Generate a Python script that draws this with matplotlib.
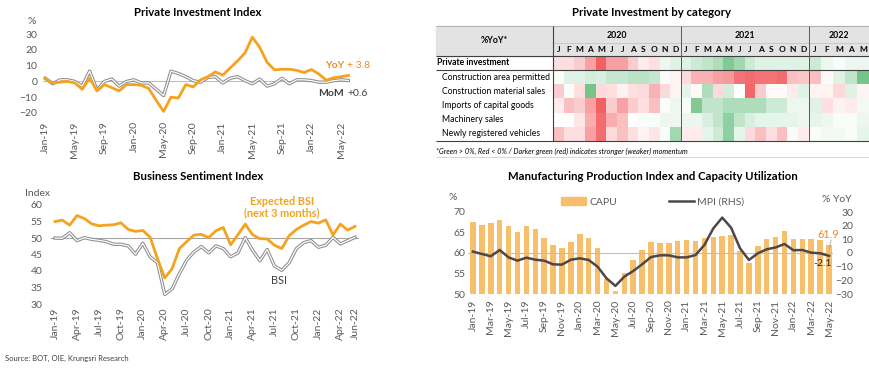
import matplotlib.pyplot as plt
import numpy as np
from matplotlib.colors import LinearSegmentedColormap
from matplotlib.patches import Patch, Rectangle
from matplotlib.lines import Line2D

plt.rcParams['font.family'] = ['Lato', 'DejaVu Sans']

W, H = 870, 368
ORANGE = '#F5A21E'
BAR = '#F7BF6B'
GREY_TXT = '#595959'
DARK = '#4F4747'

# ---------------- data ----------------
mon = ['Jan', 'Feb', 'Mar', 'Apr', 'May', 'Jun', 'Jul', 'Aug', 'Sep', 'Oct', 'Nov', 'Dec']
month_labels = [f'{m}-{y}' for y in ('19', '20', '21', '22') for m in mon]

# Private Investment Index, %YoY and %MoM (Jan-19 .. Jun-22)
pii_yoy = [2, -1, -0.5, 0, -1, -5, 2, -6, -2, -4, -6, -2,
           -2, -2.5, -4.5, -12, -19, -10, -10.5, -2, -3.5, 1, 3, 6,
           4, 8.5, 13, 18, 28, 21.5, 12, 7.3, 7.7, 7.7, 7, 5.6,
           7.5, 4.6, 0.8, 2.3, 3.0, 3.8]
pii_mom = [2, -1.5, 1, 1, 0, -3, 6.5, -5.5, 0, 1.5, -3, 0,
           1, -1, -1, -5, -9, 6.5, 5, 3, 0.5, -0.5, 2.5, 3,
           -1, 2, 3, 0.5, -1.5, 1.5, -3, -1.5, 2, -1.5, 1, 1,
           0.5, -0.5, -0.5, 0.5, 1, 0.6]

# Business Sentiment Index (Jan-19 .. Jun-22)
bsi_expected = [55, 55.4, 53.9, 56.8, 55.9, 54.3, 53.7, 53.9, 54, 54.6, 52.6, 52,
                52.3, 50.2, 43.8, 37.9, 40.7, 46.8, 48.9, 50.9, 51.1, 50.1, 52.2, 53.2,
                47.9, 51, 54.2, 51, 49.8, 49.7, 47.8, 46.8, 50.7, 52.6, 53.9, 55,
                54.5, 55.5, 50.9, 54.2, 52.4, 53.5]
bsi = [50, 49.9, 51.6, 49.2, 50.1, 49.6, 49.3, 48.9, 48.1, 48.1, 47.6, 45.1,
       48.4, 44.3, 42.5, 32.9, 34.6, 39.2, 43.3, 45.8, 47.4, 45.5, 47.6, 46.8,
       44.3, 45.5, 50.1, 46.3, 43.1, 46.5, 41.5, 40.2, 42.5, 46.8, 48.6, 49.2,
       47.2, 47.8, 50.2, 48.2, 49.2, 50.2]

# Capacity utilisation (%) and MPI (%YoY), Jan-19 .. May-22
capu = [67.6, 66.9, 67.3, 68, 66.7, 65, 66.6, 65.8, 63.7, 61.9, 61.2, 62.7,
        64.6, 63.6, 61.1, 53.6, 50.8, 55.2, 58.3, 60.7, 62.8, 62.5, 62.4, 62.9,
        63.2, 62.9, 63.7, 63.8, 64.2, 64.5, 60.6, 57.5, 61.7, 63.3, 63.8, 65.4,
        63.4, 63.4, 63.4, 63.2, 61.9]
mpi = [1, -0.7, -2.4, 2.2, -3.2, -5.6, -3.4, -4.9, -5.6, -8.3, -8.5, -4.9,
       -3.9, -5.1, -10, -18.5, -24.1, -17.3, -13.2, -8.3, -3, -1.7, -1.7, -3.2,
       -3.2, -1.5, 5.9, 18, 25.9, 18.5, 3.4, -5.1, -0.2, 2.7, 4.1, 6.6,
       2, 2.2, 0.2, -0.2, -2.1]

# Heatmap: momentum score (negative = red, positive = green), Jan-20 .. May-22
heat_rows = ['Private investment', 'Construction area permitted', 'Construction material sales',
             'Imports of capital goods', 'Machinery sales', 'Newly registered vehicles']
private_investment = [-0.5, -0.5, -0.8, -1.5, -2.5, -1.5, -1.5, -0.8, -0.3, -0.5, 0.3, 0.5,
                      0.5, 0.8, 1.0, 1.3, 2.0, 1.5, 0.8, 0.5, 0.5, 0.5, 0.5, 0.5,
                      0.8, 0.3, 0.1, 0.3, 0.3]
construction_permitted = [0.1, 0.5, 0.5, 0.7, 0.6, 0.9, 0.9, 1.1, 1.1, 0.9, 0.1, -0.2,
                          -0.6, -1.2, -1.2, -1.5, -1.6, -2.2, -2.3, -2.2, -2.2, -2.3, -1.0, -0.9,
                          -1.0, -0.1, 0.5, 1.0, 2.2]
construction_material = [-0.8, 0.1, -0.5, 2.2, -0.6, -0.5, -0.2, -0.5, -0.6, -1.2, -0.6, -0.2,
                         0.4, -0.1, 1.3, -0.6, 0.7, 0.0, -2.4, -0.8, -0.1, -0.1, -0.3, 0.5,
                         -0.2, -0.2, -0.6, 0.5, -0.2]
capital_imports = [-0.3, -1.0, -0.8, -1.5, -2.5, -0.8, -1.5, -0.8, -0.5, -1.0, 0.1, 0.3,
                   0.1, 2.0, 1.0, 1.0, 1.3, 1.3, 1.3, 1.3, 0.8, 0.8, 0.3, 0.3,
                   0.5, -0.5, -0.2, -0.3, 0.2]
machinery_sales = [0.0, 0.0, -0.4, -1.3, -2.3, -1.3, -1.0, 0.0, 0.1, 0.1, 0.3, 0.3,
                   0.3, 0.3, 0.6, 1.0, 1.8, 1.0, 0.6, 0.4, 0.4, 0.4, 0.4, 0.3,
                   0.4, 0.3, 0.1, 0.1, 0.3]
new_vehicles = [-1.0, -0.5, -0.5, -1.5, -2.3, -0.6, -1.0, -0.5, -0.2, -0.4, 0.1, 1.5,
                -0.3, -0.3, 0.4, 0.8, 1.8, 0.4, -0.6, -1.0, -0.5, -1.0, 0.1, -0.3,
                0.1, 0.2, 0.2, 0.1, 0.4]
heat_years = ['2020', '2021', '2022']
heat_months = list('JFMAMJJASOND') * 2 + list('JFMAM')

fig = plt.figure(figsize=(W / 100, H / 100), dpi=100)


def axes_px(x0, y0, x1, y1):
    return fig.add_axes([x0 / W, 1 - y1 / H, (x1 - x0) / W, (y1 - y0) / H])


def clean(ax):
    for s in ax.spines.values():
        s.set_visible(False)
    ax.set_facecolor('none')
    ax.tick_params(length=0, labelsize=7.5, colors=GREY_TXT)


def ftext(x, y, s, **kw):
    fig.text(x / W, 1 - y / H, s, **kw)


# ---------------- Private Investment Index ----------------
ax1 = axes_px(43, 34, 350, 113)
clean(ax1)
x1 = np.arange(len(pii_yoy))
ax1.axhline(0, color='#BFBFBF', lw=0.8)
ax1.plot(x1, pii_mom, color='#8C8C8C', lw=2.4)
ax1.plot(x1, pii_mom, color='white', lw=0.9)
ax1.plot(x1, pii_yoy, color=ORANGE, lw=2.0)
ax1.set_xlim(-0.3, 41.2)
ax1.set_ylim(-20, 30)
ax1.set_yticks(range(-20, 31, 10))
ax1.set_xticks(x1[::4])
ax1.set_xticklabels([month_labels[i] for i in x1[::4]], rotation=90)
ax1.tick_params(axis='y', pad=4)
ax1.tick_params(axis='x', pad=6)
ftext(198, 12, 'Private Investment Index', ha='center', va='center', fontsize=8.2, fontweight='bold')
ftext(32, 21, '%', ha='center', va='center', fontsize=7.5, color=GREY_TXT)
ftext(325, 65, 'YoY', ha='left', va='center', fontsize=7.5, fontweight='bold', color='#EE8A2A')
ftext(347, 65, '+ 3.8', ha='left', va='center', fontsize=7.5, color='#EE8A2A')
ftext(318, 93, 'MoM', ha='left', va='center', fontsize=7.5, fontweight='bold', color='#404040')
ftext(347, 93, '+0.6', ha='left', va='center', fontsize=7.5, color='#404040')

# ---------------- Business Sentiment Index ----------------
ax2 = axes_px(51, 205, 359, 304)
clean(ax2)
x2 = np.arange(len(bsi))
ax2.axhline(50, color='#A6A6A6', lw=0.8)
ax2.plot(x2, bsi, color='#8C8C8C', lw=2.4)
ax2.plot(x2, bsi, color='white', lw=0.9)
ax2.plot(x2, bsi_expected, color=ORANGE, lw=2.0)
ax2.set_xlim(-0.55, 41.55)
ax2.set_ylim(30, 60)
ax2.set_yticks(range(30, 61, 5))
ticks2 = list(range(0, 40, 3)) + [41]
ax2.set_xticks(ticks2)
ax2.set_xticklabels([month_labels[i] for i in ticks2], rotation=90)
ax2.tick_params(axis='y', pad=6)
ax2.tick_params(axis='x', pad=2.5)
ftext(198, 177, 'Business Sentiment Index', ha='center', va='center', fontsize=8.2, fontweight='bold')
ftext(38, 193, 'Index', ha='center', va='center', fontsize=7.5, color=GREY_TXT)
ftext(282, 207, 'Expected BSI\n(next 3 months)', ha='center', va='center', fontsize=7.8,
      fontweight='bold', color=ORANGE, linespacing=1.1)
ftext(279, 280, 'BSI', ha='center', va='center', fontsize=7.8, color='#404040')

# ---------------- Private Investment by category (heatmap) ----------------
ax3 = axes_px(430, 20, 870, 162)
ax3.set_xlim(430, 870)
ax3.set_ylim(162, 20)
ax3.axis('off')
heat = np.array([private_investment, construction_permitted, construction_material,
                 capital_imports, machinery_sales, new_vehicles])
cmap = LinearSegmentedColormap.from_list('rg', ['#F25B5E', '#FFFFFF', '#5DBB76'])
xedges = np.concatenate([553 + 10.65 * np.arange(25), 808.6 + 12.2 * np.arange(1, 6)])
yedges = [55.5, 70, 84.2, 98.4, 112.6, 126.8, 141]
ax3.add_patch(Rectangle((436, 26), 433, 29.5, color='#E3E3E3', zorder=0))
ax3.pcolormesh(xedges, yedges, heat, cmap=cmap, vmin=-2.6, vmax=2.6, shading='flat')
ax3.text(494, 40.5, '%YoY*', ha='center', va='center', fontsize=6.3, fontweight='bold')
for k, yr in enumerate(heat_years):
    a, b = [0, 12, 24][k], [12, 24, 29][k]
    ax3.text((xedges[a] + xedges[b]) / 2, 35, yr, ha='center', va='center', fontsize=6.3, fontweight='bold')
for j, m in enumerate(heat_months):
    ax3.text((xedges[j] + xedges[j + 1]) / 2, 49, m, ha='center', va='center', fontsize=6, fontweight='bold')
for r, name in enumerate(heat_rows):
    yc = (yedges[r] + yedges[r + 1]) / 2
    if r == 0:
        ax3.text(437, yc, name, ha='left', va='center', fontsize=6.2, fontweight='bold')
    else:
        ax3.text(442, yc, name, ha='left', va='center', fontsize=6.2)
ax3.hlines([26], 436, 869, color='#A6A6A6', lw=0.6)
ax3.hlines([43], 553, 869, color='#BFBFBF', lw=0.5)
ax3.hlines([55.5, 70, 141], 436, 869, color='#404040', lw=0.8)
ax3.vlines([553], 26, 141, color='#404040', lw=0.8)
ax3.vlines([xedges[12], xedges[24]], 26, 141, color='#595959', lw=0.7)
ax3.text(436, 151, '*Green > 0%, Red < 0% / Darker green (red) indicates stronger (weaker) momentum',
         ha='left', va='center', fontsize=5.2, style='italic')
ax3.hlines([157], 436, 869, color='#D0D0D0', lw=0.6)
ftext(652, 12, 'Private Investment by category', ha='center', va='center', fontsize=8.2, fontweight='bold')

# ---------------- MPI and CAPU ----------------
ax4 = axes_px(468.5, 212, 833.5, 294)
clean(ax4)
x4 = np.arange(len(capu))
ax4.bar(x4, capu, width=0.62, color=BAR)
ax4.axhline(60, color='#BFBFBF', lw=0.8, zorder=3)
ax4.set_xlim(-0.5, 40.5)
ax4.set_ylim(50, 70)
ax4.set_yticks(range(50, 71, 5))
ax4.set_xticks(x4[::2])
ax4.set_xticklabels([month_labels[i] for i in x4[::2]], rotation=90)
ax4.tick_params(axis='y', pad=2)
ax4.tick_params(axis='x', pad=4)
ax4b = ax4.twinx()
clean(ax4b)
ax4b.plot(x4, mpi, color=DARK, lw=1.8)
ax4b.set_ylim(-30, 30)
ax4b.set_yticks(range(-30, 31, 10))
for lab in ax4b.get_yticklabels():
    lab.set_horizontalalignment('right')
ax4b.tick_params(axis='y', pad=14)
ftext(653, 177, 'Manufacturing Production Index and Capacity Utilization', ha='center', va='center',
      fontsize=8.2, fontweight='bold')
ftext(453, 197, '%', ha='center', va='center', fontsize=7.5, color=GREY_TXT)
ftext(852, 199, '% YoY', ha='right', va='center', fontsize=7.5, color=GREY_TXT)
ftext(828, 234, '61.9', ha='center', va='center', fontsize=7.8, color='#EE8A2A')
ftext(832, 264, '-2.1', ha='right', va='center', fontsize=7.5, color='#262626')
fig.add_artist(Line2D([831 / W, 829 / W], [1 - 240 / H, 1 - 250 / H], color='#A6A6A6', lw=0.6))
handles = [Patch(color=BAR, label='CAPU'), Line2D([], [], color=DARK, lw=1.8, label='MPI (RHS)')]
fig.legend(handles=handles, loc='center', bbox_to_anchor=(653 / W, 1 - 202 / H), ncol=2,
           frameon=False, fontsize=7.5, handlelength=2.4, handleheight=0.7, columnspacing=5,
           labelcolor=GREY_TXT, handletextpad=0.3)

ftext(5, 358, 'Source: BOT, OIE, Krungsri Research', ha='left', va='center', fontsize=5.5, color='#404040')

fig.savefig('out.png', dpi=100)
